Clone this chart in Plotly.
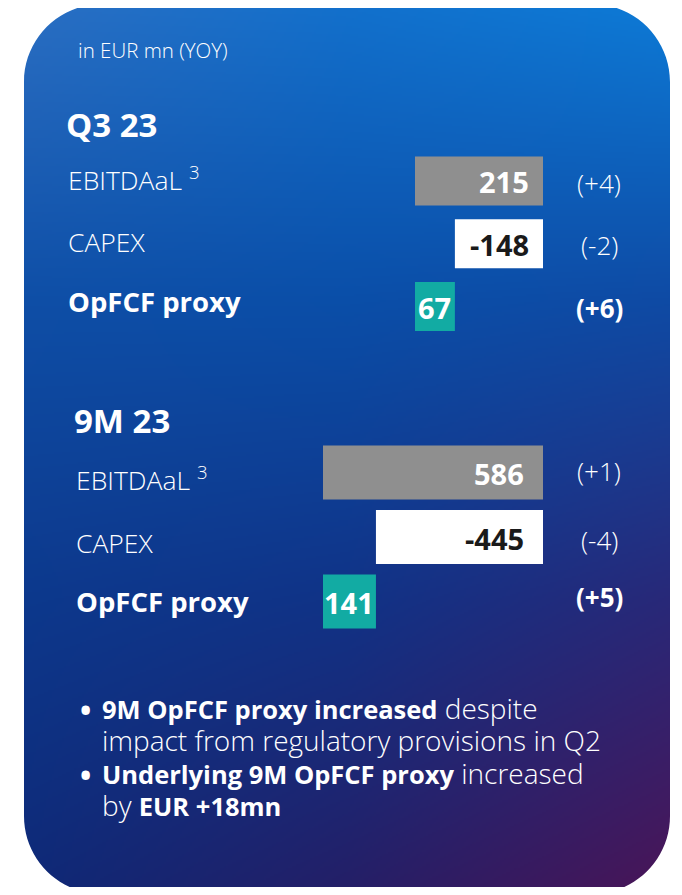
import numpy as np
import plotly.graph_objects as go

# ---------------- data ----------------
categories = ["EBITDAaL", "CAPEX", "OpFCF proxy"]
category_labels = ["EBITDAaL <sup>3</sup>", "CAPEX", "<b>OpFCF proxy</b>"]
section_titles = ["Q3 23", "9M 23"]
unit_note = "in EUR mn (YOY)"

q3_ebitdaal = 215
q3_capex = -148
q3_yoy = ["(+4)", "(-2)", "(+6)"]

m9_ebitdaal = 586
m9_capex = -445
m9_yoy = ["(+1)", "(-4)", "(+5)"]

bullet_lines = [
    ("\u2022", [("b", "9M OpFCF proxy increased"), ("", " despite")]),
    ("", [("", "impact from regulatory provisions in Q2")]),
    ("\u2022", [("b", "Underlying 9M OpFCF proxy"), ("", " increased")]),
    ("", [("", "by "), ("b", "EUR +18mn")]),
]

# ---------------- style ----------------
PAGE_W, PAGE_H = 682, 895
OFF = 8                      # browser body margin
FW, FH = PAGE_W - 2 * OFF, PAGE_H - 2 * OFF
FONT = "Open Sans"
GRAY = "#8f8f8f"
WHITE = "#ffffff"
TEAL = "#12aba3"
DARK = "#1a1a1a"
bar_colors = [GRAY, WHITE, TEAL]
value_colors = ["white", DARK, "white"]

CARD_X0, CARD_X1, CARD_Y0, CARD_Y1, RADIUS = 24, 670, 4, 894, 78

# gradient control colours (rows top->bottom, cols left->right), page pixels
grad_y = np.array([4, 300, 600, 894])
grad_x = np.array([24, 347, 670])
grad_rgb = np.array([
    [[42, 110, 194], [18, 112, 204], [12, 122, 214]],
    [[14, 78, 166], [10, 78, 168], [14, 74, 164]],
    [[12, 56, 140], [16, 50, 134], [40, 40, 120]],
    [[14, 40, 118], [36, 30, 102], [74, 20, 86]],
], dtype=float)


def paper(x, y):
    """page pixel -> paper fraction"""
    return (x - OFF) / FW, 1 - (y - OFF) / FH


sections = [
    dict(title=section_titles[0], title_pos=(64, 124), ebitda=q3_ebitdaal, capex=q3_capex,
         yoy=q3_yoy, origin_px=415, end_px=543, rows_top=149.6, rows_bot=337.9, bar_w=0.78,
         label_x=66, label_shift=[2.5, 1.5, 5.5], yoy_shift=[-2, -1, -1], pad=12),
    dict(title=section_titles[1], title_pos=(72, 421), ebitda=m9_ebitdaal, capex=m9_capex,
         yoy=m9_yoy, origin_px=323, end_px=543, rows_top=440.25, rows_bot=633.75, bar_w=0.84,
         label_x=74, label_shift=[-6, -6, 0.5], yoy_shift=[1.5, -3, 4.5], pad=17),
]
yoy_bold = [False, False, True]

fig = go.Figure()

# ---------------- background gradient card (subplot 1, page-pixel axes) ----------------
cell = 2
xc = np.arange(CARD_X0 + cell / 2, CARD_X1, cell)
yc = np.arange(CARD_Y0 + cell / 2, CARD_Y1, cell)
cols = np.empty((len(yc), len(grad_x), 3))
for j in range(len(grad_x)):
    for ch in range(3):
        cols[:, j, ch] = np.interp(yc, grad_y, grad_rgb[:, j, ch])
img = np.empty((len(yc), len(xc), 3))
for i in range(len(yc)):
    for ch in range(3):
        img[i, :, ch] = np.interp(xc, grad_x, cols[i, :, ch])
img = np.clip(np.round(img), 0, 255).astype(int).tolist()

fig.add_trace(go.Image(z=img, x0=xc[0], y0=yc[0], dx=cell, dy=cell,
                       xaxis="x", yaxis="y", hoverinfo="skip"))

shapes = []
k = 0.5523 * RADIUS
r = RADIUS
e = 3
X0, X1, Y0, Y1 = CARD_X0, CARD_X1, CARD_Y0, CARD_Y1
corner_paths = [
    f"M {X0-e},{Y0-e} L {X0+r},{Y0-e} L {X0+r},{Y0} C {X0+r-k},{Y0} {X0},{Y0+r-k} {X0},{Y0+r} L {X0-e},{Y0+r} Z",
    f"M {X1+e},{Y0-e} L {X1-r},{Y0-e} L {X1-r},{Y0} C {X1-r+k},{Y0} {X1},{Y0+r-k} {X1},{Y0+r} L {X1+e},{Y0+r} Z",
    f"M {X0-e},{Y1+e} L {X0+r},{Y1+e} L {X0+r},{Y1} C {X0+r-k},{Y1} {X0},{Y1-r+k} {X0},{Y1-r} L {X0-e},{Y1-r} Z",
    f"M {X1+e},{Y1+e} L {X1-r},{Y1+e} L {X1-r},{Y1} C {X1-r+k},{Y1} {X1},{Y1-r+k} {X1},{Y1-r} L {X1+e},{Y1-r} Z",
]
for p in corner_paths:
    shapes.append(dict(type="path", path=p, xref="x", yref="y", fillcolor="white",
                       line=dict(width=0), layer="above"))

annotations = []


def note(x, y, text, size, weight=300, color="white", xanchor="left"):
    px_, py_ = paper(x, y)
    annotations.append(dict(x=px_, y=py_, xref="paper", yref="paper", text=text,
                            showarrow=False, xanchor=xanchor, yanchor="middle",
                            font=dict(family=FONT, size=size, color=color, weight=weight)))


note(76, 50, unit_note, 20.5)

layout_axes = {}
for si, s in enumerate(sections):
    n = si + 2
    xname, yname = f"x{n}", f"y{n}"
    ppu = (s["end_px"] - s["origin_px"]) / s["ebitda"]
    xr = [(OFF - s["origin_px"]) / ppu, (PAGE_W - OFF - s["origin_px"]) / ppu]
    opfcf = s["ebitda"] + s["capex"]
    values = [s["ebitda"], s["capex"], opfcf]
    bases = [0, s["ebitda"], 0]
    fig.add_trace(go.Bar(orientation="h", y=categories, x=values, base=bases,
                         marker=dict(color=bar_colors, line=dict(width=0)),
                         width=s["bar_w"], xaxis=xname, yaxis=yname,
                         hoverinfo="skip", showlegend=False))
    layout_axes[f"xaxis{n}"] = dict(domain=[0, 1], range=xr, visible=False, fixedrange=True,
                                    anchor=yname)
    top, bot = s["rows_top"], s["rows_bot"]
    layout_axes[f"yaxis{n}"] = dict(domain=[1 - (bot - OFF) / FH, 1 - (top - OFF) / FH],
                                    type="category", categoryorder="array",
                                    categoryarray=categories, range=[2.5, -0.5],
                                    visible=False, fixedrange=True, anchor=xname)
    note(s["title_pos"][0], s["title_pos"][1], f"<b>{s['title']}</b>", 33, weight=700)
    for ci, cat in enumerate(categories):
        bold = ci == 2
        annotations.append(dict(
            x=(s["label_x"] - OFF) / FW, xref="paper", y=cat, yref=yname,
            text=category_labels[ci], showarrow=False, xanchor="left", yanchor="middle",
            yshift=s["label_shift"][ci],
            font=dict(family=FONT, size=27.5 if bold else 26.5, color="white",
                      weight=700 if bold else 300)))
        yb = yoy_bold[ci]
        annotations.append(dict(
            x=(599 - OFF) / FW, xref="paper", y=cat, yref=yname,
            text=f"<b>{s['yoy'][ci]}</b>" if yb else s["yoy"][ci],
            showarrow=False, xanchor="center", yanchor="middle", yshift=s["yoy_shift"][ci],
            font=dict(family=FONT, size=26, color="white", weight=700 if yb else 300)))
        lo = min(bases[ci], bases[ci] + values[ci])
        hi = max(bases[ci], bases[ci] + values[ci])
        if ci == 2:
            ax, anchor, shift = (lo + hi) / 2, "center", 0
        else:
            ax, anchor, shift = hi, "right", -s["pad"]
        annotations.append(dict(
            x=ax, xref=xname, y=cat, yref=yname, text=f"<b>{values[ci]}</b>",
            showarrow=False, xanchor=anchor, yanchor="middle", xshift=shift, yshift=-1,
            font=dict(family=FONT, size=29, color=value_colors[ci], weight=700)))

# bullets
bullet_y = [708, 740, 773, 805]
for (mark, parts), by in zip(bullet_lines, bullet_y):
    if mark:
        note(85, by + 1, f"<b>{mark}</b>", 30, weight=700, xanchor="center")
    txt = "".join(
        f'<b><span style="font-size:25.5px">{t}</span></b>' if st == "b" else t
        for st, t in parts)
    note(100, by, txt, 28)

fig.update_layout(
    width=FW, height=FH, autosize=False,
    margin=dict(l=0, r=0, t=0, b=0, pad=0),
    paper_bgcolor="white", plot_bgcolor="rgba(0,0,0,0)",
    showlegend=False, barmode="overlay",
    xaxis=dict(domain=[0, 1], range=[OFF, PAGE_W - OFF], visible=False, fixedrange=True,
               anchor="y"),
    yaxis=dict(domain=[0, 1], range=[PAGE_H - OFF, OFF], visible=False, fixedrange=True,
               anchor="x"),
    shapes=shapes, annotations=annotations,
    **layout_axes,
)

fig.write_html("out.html", config={"displayModeBar": False, "staticPlot": True})
